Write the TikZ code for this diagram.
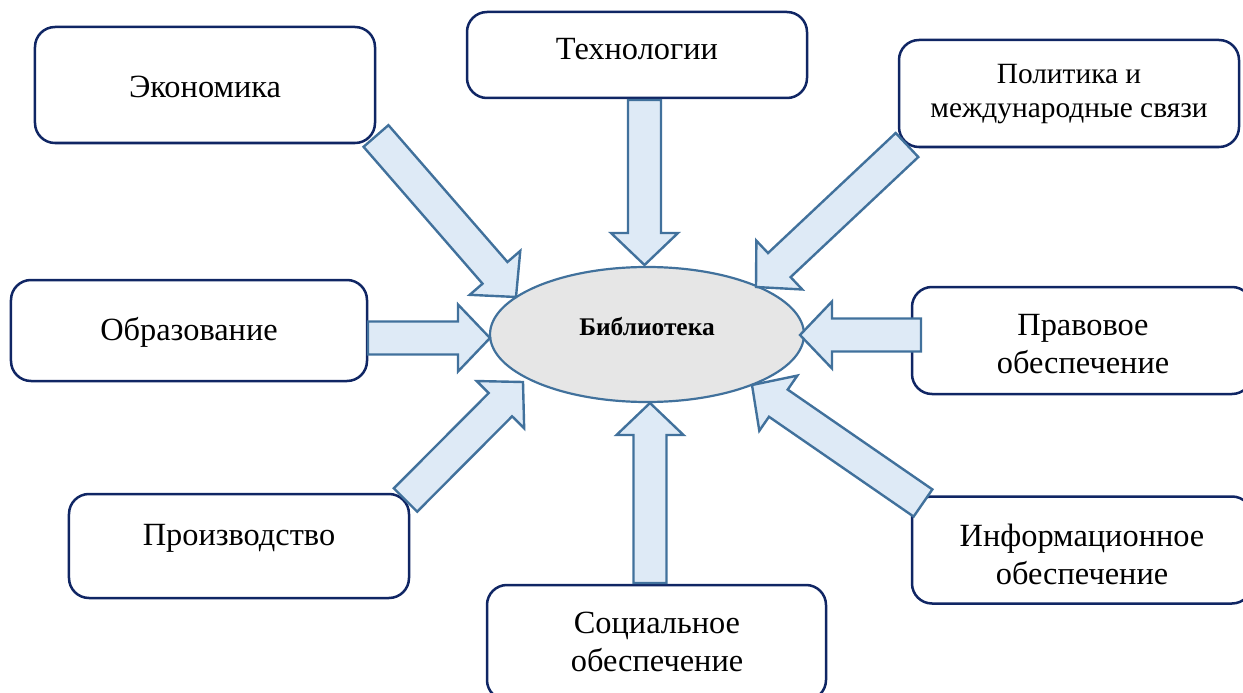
\documentclass[tikz,border=0pt]{standalone}
\usepackage{fontspec}
\setmainfont{Liberation Serif}
\usetikzlibrary{calc,shapes.geometric}
\definecolor{navy}{RGB}{16,38,100}
\definecolor{arrline}{RGB}{65,113,156}
\definecolor{arrfill}{RGB}{222,234,246}
\definecolor{ellfill}{RGB}{230,230,230}
\tikzset{
  box/.style={draw=navy, line width=2.5bp, rounded corners=20bp, fill=white, inner sep=0pt},
  lbl/.style={align=center, font=\fontsize{32.5}{38}\selectfont, inner sep=0pt},
  barrow/.style={draw=arrline, fill=arrfill, line width=2.4bp, line join=miter},
}
\newcommand\blockarrow[2]{%
  \coordinate (hb) at ($(#2)!32bp!(#1)$);
  \draw[barrow] ($(#1)!16.5bp!90:(#2)$) -- ($(hb)!16.5bp!90:(#2)$) -- ($(hb)!33.5bp!90:(#2)$) -- (#2)
    -- ($(hb)!33.5bp!-90:(#2)$) -- ($(hb)!16.5bp!-90:(#2)$) -- ($(#1)!16.5bp!-90:(#2)$) -- cycle;}
\begin{document}
\begin{tikzpicture}[x=1bp,y=-1bp]
\useasboundingbox (0,0) rectangle (1243,693);
\clip (0,0) rectangle (1243,693);
% boxes
\node[box, minimum width=340bp, minimum height=116bp] (eco) at (205,85) {};
\node[box, minimum width=340bp, minimum height=86bp] (tech) at (637,55) {};
\node[box, minimum width=340bp, minimum height=107bp] (pol) at (1069,93.5) {};
\node[box, minimum width=356bp, minimum height=101bp] (edu) at (189,330.5) {};
\node[box, minimum width=340bp, minimum height=107bp] (prav) at (1082,340.5) {};
\node[box, minimum width=340bp, minimum height=104bp] (prod) at (239,546) {};
\node[box, minimum width=340bp, minimum height=107bp] (info) at (1082,550) {};
\node[box, minimum width=339bp, minimum height=115bp] (soc) at (656.5,642.5) {};
% labels
\node[lbl] at (205,87) {Экономика};
\node[lbl] at (637,49) {Технологии};
\node[lbl, font=\fontsize{29.5}{35}\selectfont] at (1069,94) {Политика и\\международные связи};
\node[lbl] at (189,332) {Образование};
\node[lbl] at (1083,344) {Правовое\\обеспечение};
\node[lbl] at (239,538) {Производство};
\node[lbl] at (1082,554) {Информационное\\обеспечение};
\node[lbl] at (657,642) {Социальное\\обеспечение};
% centre
\node[draw=arrline, fill=ellfill, line width=2.2bp, ellipse, minimum width=314bp, minimum height=135bp, inner sep=0pt] (lib) at (647,334.5) {};
\node[font=\bfseries\fontsize{25.5}{30}\selectfont, inner sep=0pt] at (647,327) {Библиотека};
% arrow end points
\coordinate (t1) at (376,136);   \coordinate (p1) at (516,297);
\coordinate (t2) at (644.5,100); \coordinate (p2) at (644.5,265);
\coordinate (t3) at (907,145);   \coordinate (p3) at (756,287);
\coordinate (t4) at (368,338);   \coordinate (p4) at (490,338);
\coordinate (t5) at (405.5,500); \coordinate (p5) at (523,382);
\coordinate (t6) at (650,583);   \coordinate (p6) at (650,403);
\coordinate (t7) at (923,503);   \coordinate (p7) at (752,385);
\coordinate (t8) at (921,335);   \coordinate (p8) at (800,335);
\blockarrow{t1}{p1}
\blockarrow{t2}{p2}
\blockarrow{t3}{p3}
\blockarrow{t4}{p4}
\blockarrow{t5}{p5}
\blockarrow{t6}{p6}
\blockarrow{t7}{p7}
\blockarrow{t8}{p8}
\end{tikzpicture}
\end{document}
